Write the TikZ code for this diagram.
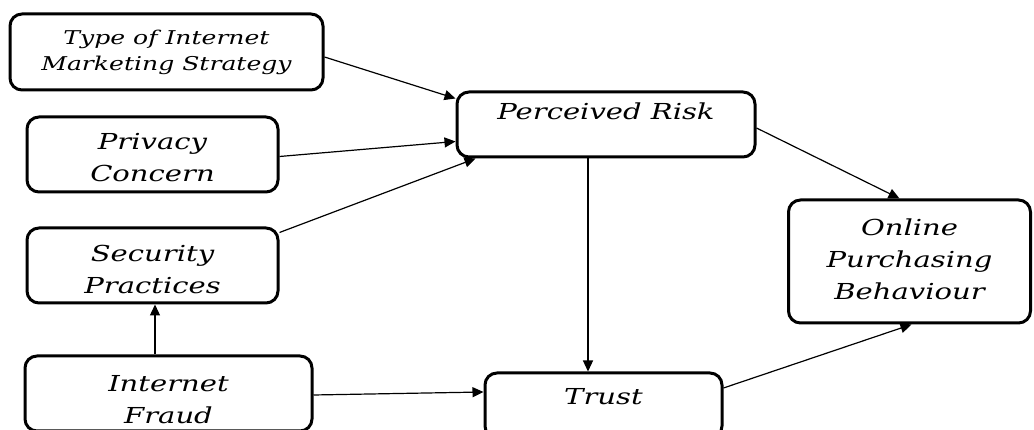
\documentclass[tikz,border=0pt]{standalone}
\usepackage{fontspec}
\setmainfont[FakeStretch=1.32]{DejaVu Serif}
\usetikzlibrary{arrows.meta}
\begin{document}
\begin{tikzpicture}[x=1pt,y=1pt,
  box/.style={draw, line width=3pt, rounded corners=12pt, inner sep=0pt},
  txt/.style={font=\fontsize{22}{32}\selectfont\itshape, align=center, inner sep=0pt},
  smalltxt/.style={font=\fontsize{19}{26}\selectfont\itshape, align=center, inner sep=0pt},
  conn/.style={line width=1.2pt, -{Triangle[length=11pt,width=10pt]}}]
\useasboundingbox (0,0) rectangle (1034,430);
\clip (0,0) rectangle (1034,430);
\fill[white] (0,0) rectangle (1034,430);
% boxes
\node[box, minimum width=313pt, minimum height=76pt] (type) at (166.5,378) {};
\node[box, minimum width=251pt, minimum height=75pt] (privacy) at (152.5,275.5) {};
\node[box, minimum width=251pt, minimum height=75pt] (security) at (152.5,164.5) {};
\node[box, minimum width=287pt, minimum height=75pt] (fraud) at (168.5,36.5) {};
\node[box, minimum width=298pt, minimum height=65pt] (pr) at (606,305.5) {};
\node[box, minimum width=237pt, minimum height=65pt] (trust) at (603.5,24.5) {};
\node[box, minimum width=242pt, minimum height=123pt] (online) at (909.5,168.5) {};
% texts
\node[smalltxt] (typet) at (type.center) {Type of Internet\\Marketing Strategy};
\node[txt] (privacyt) at ([yshift=-3pt]privacy.center) {Privacy\\Concern};
\node[txt] (securityt) at ([yshift=-4pt]security.center) {Security\\Practices};
\node[txt] (fraudt) at ([yshift=-6pt]fraud.center) {Internet\\Fraud};
\node[txt] (prt) at ([yshift=-21pt]pr.north) {Perceived Risk};
\node[txt] (trustt) at ([yshift=-25pt]trust.north) {Trust};
\node[txt] (onlinet) at ([yshift=2pt]online.center) {Online\\Purchasing\\Behaviour};
% connectors
\draw[conn] ([yshift=-5pt]type.east) -- ([yshift=-8pt]pr.north west);
\draw[conn] ([yshift=-2pt]privacy.east) -- ([yshift=-17pt]pr.west);
\draw[conn] ([yshift=-6pt]security.north east) -- ([xshift=20pt]pr.south west);
\draw[conn] ([xshift=-13.5pt]fraud.north) -- ([xshift=2.5pt]security.south);
\draw[conn] ([yshift=-1.5pt]fraud.east) -- ([yshift=13.5pt]trust.west);
\draw[conn] ([xshift=-18pt]pr.south) -- ([xshift=-15.5pt]trust.north);
\draw[conn] ([yshift=-3.5pt]pr.east) -- ([xshift=-10pt]online.north);
\draw[conn] ([yshift=17.5pt]trust.east) -- ([xshift=2pt]online.south);
\end{tikzpicture}
\end{document}
